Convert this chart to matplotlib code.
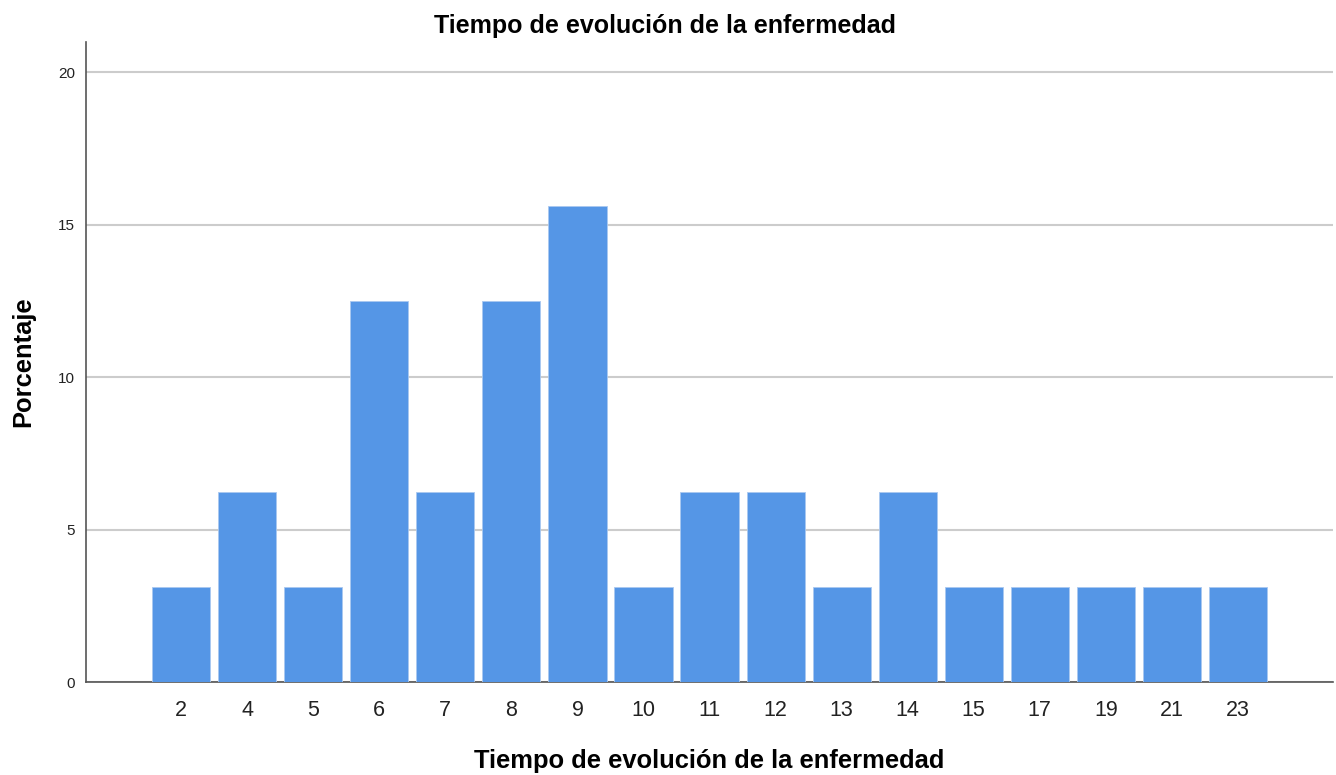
import matplotlib
matplotlib.use("Agg")
import matplotlib.pyplot as plt

categories = ["2", "4", "5", "6", "7", "8", "9", "10", "11", "12", "13", "14", "15", "17", "19", "21", "23"]
percentages = [3.125, 6.25, 3.125, 12.5, 6.25, 12.5, 15.625, 3.125, 6.25, 6.25, 3.125, 6.25,
               3.125, 3.125, 3.125, 3.125, 3.125]
yticks = [0, 5, 10, 15, 20]

plt.rcParams['font.family'] = ['Liberation Sans', 'DejaVu Sans']

fig = plt.figure(figsize=(13.36, 7.75), dpi=100)
ax = fig.add_axes([0.0644, 0.12, 0.9334, 0.8258])

x = list(range(len(categories)))
ax.bar(x, percentages, width=0.88, color="#5596E6", edgecolor="#A9C8F0", linewidth=0.6, zorder=3)

ax.set_xlim(-1.44, len(categories) - 1 + 1.44)
ax.set_ylim(0, 21)
ax.set_yticks(yticks)
ax.set_yticklabels([str(t) for t in yticks], fontsize=11, color="#222222")
ax.set_xticks(x)
ax.set_xticklabels(categories, fontsize=15.5, color="#222222")
ax.tick_params(axis='both', length=0)
ax.tick_params(axis='x', pad=13)
ax.tick_params(axis='y', pad=8)

ax.yaxis.grid(True, color="#CCCCCC", linewidth=1.5, zorder=0)
ax.set_axisbelow(True)
for s in ["top", "right"]:
    ax.spines[s].set_visible(False)
for s in ["left", "bottom"]:
    ax.spines[s].set_color("#555555")
    ax.spines[s].set_linewidth(1.2)

ax.set_xlabel("Tiempo de evolución de la enfermedad", fontsize=18.4, fontweight="bold", labelpad=20)
ax.set_ylabel("Porcentaje", fontsize=18.4, fontweight="bold", labelpad=16)
fig.text(0.498, 0.967, "Tiempo de evolución de la enfermedad", ha="center", va="center",
         fontsize=18, fontweight="bold")

fig.savefig("out.png", dpi=100)
